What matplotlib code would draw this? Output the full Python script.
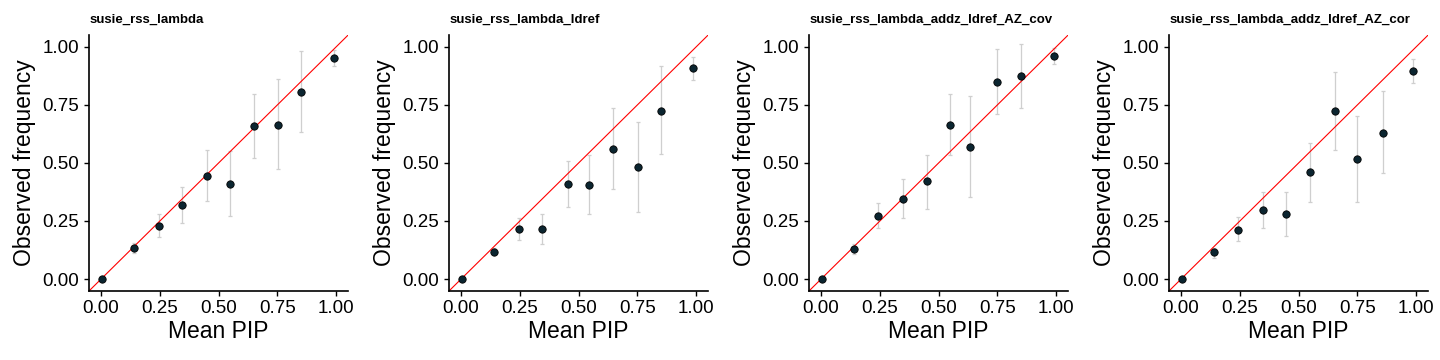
import matplotlib.pyplot as plt
import numpy as np

plt.rcParams['font.family'] = ['Liberation Sans', 'DejaVu Sans']

titles = ["susie_rss_lambda", "susie_rss_lambda_ldref",
          "susie_rss_lambda_addz_ldref_AZ_cov", "susie_rss_lambda_addz_ldref_AZ_cor"]

# mean PIP per bin, observed frequency, and error bar ends (low, high)
mean_pip = [
    [0.004, 0.14, 0.245, 0.346, 0.451, 0.546, 0.651, 0.752, 0.851, 0.989],
    [0.004, 0.138, 0.247, 0.343, 0.454, 0.543, 0.645, 0.752, 0.848, 0.987],
    [0.003, 0.139, 0.243, 0.348, 0.452, 0.548, 0.631, 0.748, 0.851, 0.990],
    [0.003, 0.14, 0.244, 0.35, 0.444, 0.549, 0.654, 0.748, 0.858, 0.986],
]
obs_freq = [
    [0.0, 0.132, 0.228, 0.32, 0.445, 0.41, 0.657, 0.664, 0.806, 0.953],
    [0.0, 0.118, 0.215, 0.214, 0.409, 0.405, 0.56, 0.481, 0.725, 0.907],
    [0.0, 0.129, 0.271, 0.346, 0.42, 0.664, 0.57, 0.849, 0.872, 0.96],
    [0.0, 0.115, 0.212, 0.298, 0.281, 0.459, 0.722, 0.515, 0.63, 0.894],
]
err_low = [
    [0.0, 0.112, 0.179, 0.242, 0.337, 0.27, 0.519, 0.472, 0.634, 0.917],
    [0.0, 0.103, 0.168, 0.149, 0.311, 0.278, 0.386, 0.287, 0.537, 0.857],
    [0.0, 0.106, 0.218, 0.261, 0.303, 0.532, 0.352, 0.712, 0.737, 0.925],
    [0.0, 0.092, 0.165, 0.221, 0.187, 0.333, 0.554, 0.33, 0.455, 0.842],
]
err_high = [
    [0.0, 0.155, 0.278, 0.397, 0.554, 0.551, 0.795, 0.859, 0.981, 0.986],
    [0.0, 0.132, 0.264, 0.278, 0.508, 0.534, 0.737, 0.674, 0.917, 0.957],
    [0.0, 0.149, 0.326, 0.43, 0.534, 0.798, 0.786, 0.989, 1.01, 0.996],
    [0.0, 0.132, 0.267, 0.376, 0.376, 0.584, 0.891, 0.702, 0.809, 0.945],
]
ticks = [0.0, 0.25, 0.5, 0.75, 1.0]
tick_labels = ["0.00", "0.25", "0.50", "0.75", "1.00"]

fig = plt.figure(figsize=(14.4, 3.6), dpi=100)

for i in range(4):
    ax = fig.add_axes([(89.3 + 360 * i) / 1440, 0.1925, 0.1797, 0.71])
    x = np.array(mean_pip[i])
    y = np.array(obs_freq[i])
    lo = y - np.array(err_low[i])
    hi = np.array(err_high[i]) - y
    ax.errorbar(x, y, yerr=[lo, hi], fmt='none', ecolor='#cfcfcf',
                elinewidth=0.9, capsize=1.2, capthick=0.9, zorder=1)
    ax.plot([-0.05, 1.05], [-0.05, 1.05], color='red', lw=0.8, zorder=2)
    ax.scatter(x, y, s=28, color='#0b2530', edgecolors='black',
               linewidths=0.6, zorder=3)
    ax.set_xlim(-0.05, 1.05)
    ax.set_ylim(-0.05, 1.05)
    ax.set_xticks(ticks)
    ax.set_xticklabels(tick_labels)
    ax.set_yticks(ticks)
    ax.set_yticklabels(tick_labels)
    ax.tick_params(labelsize=13.5, length=3.5, width=1.0, colors='black')
    ax.tick_params(axis='y', pad=4)
    ax.tick_params(axis='x', pad=3)
    for s in ['top', 'right']:
        ax.spines[s].set_visible(False)
    for s in ['left', 'bottom']:
        ax.spines[s].set_linewidth(1.2)
    ax.set_xlabel("Mean PIP", fontsize=16.5, labelpad=2)
    ax.set_ylabel("Observed frequency", fontsize=16.5, labelpad=4.5)
    ax.set_title(titles[i], loc='left', fontsize=9.5, fontweight='bold', pad=9)

fig.savefig("out.png", dpi=100)
